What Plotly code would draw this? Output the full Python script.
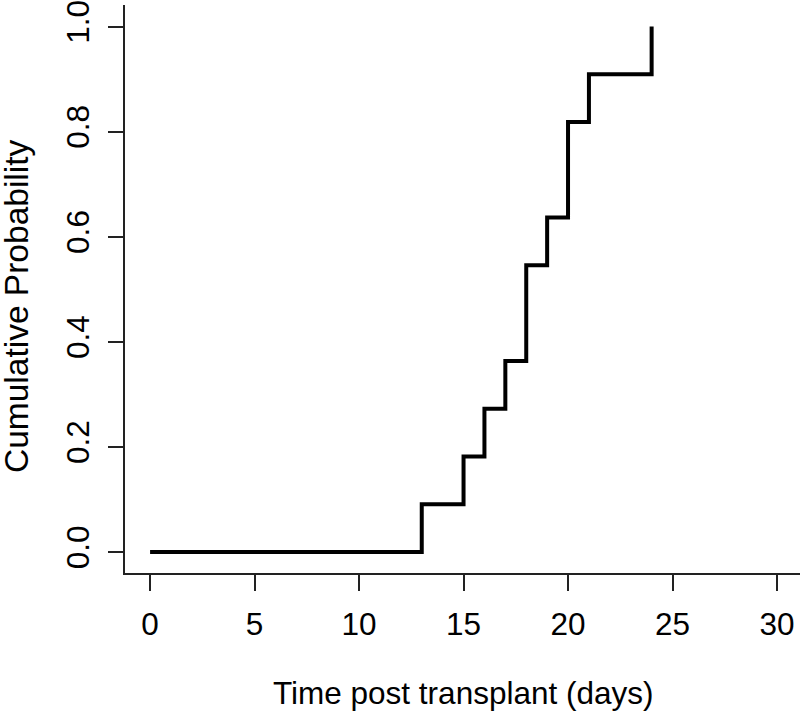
import plotly.graph_objects as go

# Event times (days) and cumulative probability at each step
times = [0, 13, 15, 16, 17, 18, 19, 20, 21, 24]
cum_prob = [0.0, 0.0909, 0.1818, 0.2727, 0.3636, 0.5455, 0.6364, 0.8182, 0.9091, 1.0]

x_ticks = [0, 5, 10, 15, 20, 25, 30]
y_ticks = [0.0, 0.2, 0.4, 0.6, 0.8, 1.0]
y_tick_labels = ["0.0", "0.2", "0.4", "0.6", "0.8", "1.0"]

x_title = "Time post transplant (days)"
y_title = "Cumulative Probability"

FONT = "Liberation Sans, Arial, sans-serif"

fig = go.Figure()
fig.add_trace(go.Scatter(
    x=times, y=cum_prob, mode="lines",
    line=dict(shape="hv", color="black", width=4),
    showlegend=False, hoverinfo="skip",
))

fig.update_layout(
    width=800, height=712,
    margin=dict(l=125, r=0, t=0, b=139),
    paper_bgcolor="white", plot_bgcolor="white",
    font=dict(family=FONT, color="black"),
    xaxis=dict(
        range=[-1.2, 31.1], tickvals=x_ticks, ticktext=[str(v) for v in x_ticks],
        showgrid=False, zeroline=False, showline=True, linecolor="#222", linewidth=2,
        ticks="outside", ticklen=16, tickwidth=2, tickcolor="#222",
        tickfont=dict(size=31.5, family=FONT, color="black"),
        ticklabelstandoff=6, ticklabeloverflow="allow",
    ),
    yaxis=dict(
        range=[-0.040, 1.041], tickvals=y_ticks, ticktext=y_tick_labels,
        showgrid=False, zeroline=False, showline=True, linecolor="#222", linewidth=2,
        ticks="outside", ticklen=15, tickwidth=2, tickcolor="#222",
        tickangle=-90,
        tickfont=dict(size=31.5, family=FONT, color="black"),
        ticklabelstandoff=6, ticklabeloverflow="allow",
    ),
    annotations=[
        dict(text=x_title, xref="paper", yref="paper", x=0.5, y=0,
             xanchor="center", yanchor="middle", yshift=-120, showarrow=False,
             font=dict(size=31.5, family=FONT, color="black")),
        dict(text=y_title, xref="paper", yref="paper", x=0, y=0.5,
             xanchor="center", yanchor="middle", xshift=-109, yshift=-17,
             textangle=-90, showarrow=False,
             font=dict(size=33.5, family=FONT, color="black")),
    ],
)

fig.write_html(
    "out.html",
    config={"displayModeBar": False},
    post_script="document.body.style.margin='0';document.body.style.overflow='hidden';",
)
